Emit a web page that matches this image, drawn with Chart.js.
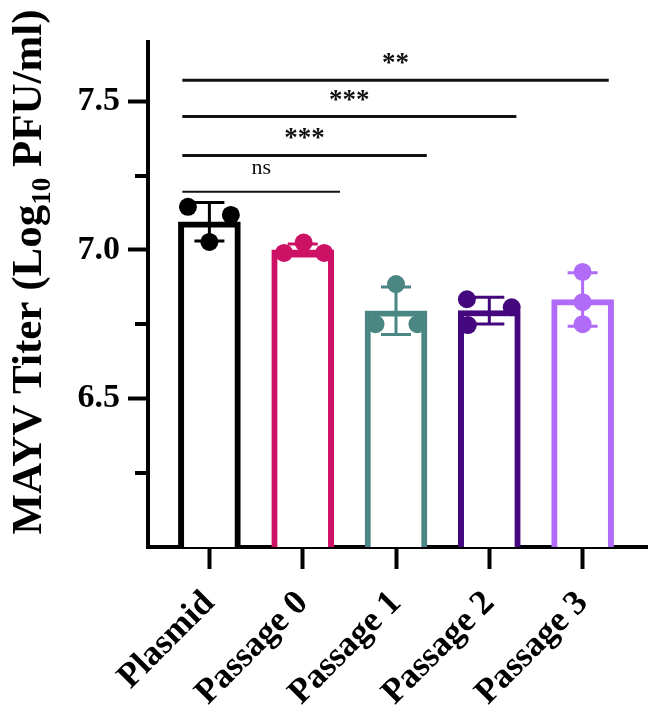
<!DOCTYPE html>
<html>
<head>
<meta charset="utf-8">
<script src="https://cdn.jsdelivr.net/npm/chart.js@4"></script>
<style>
  html, body { margin: 0; padding: 0; background: #fff; }
  #wrap { width: 656px; height: 716px; position: relative; }
</style>
</head>
<body>
<div id="wrap"><canvas id="chart"></canvas></div>
<script>
const categories = ['Plasmid', 'Passage 0', 'Passage 1', 'Passage 2', 'Passage 3'];
const colors = ['#000000', '#cd1266', '#4a8682', '#45077e', '#b06cf8'];
const means = [7.095, 7.0, 6.795, 6.796, 6.833];
const errors = [0.065, 0.02, 0.08, 0.045, 0.09];
const replicates = [
  [7.145, 7.027, 7.118],
  [6.99, 7.025, 6.99],
  [6.75, 6.885, 6.75],
  [6.834, 6.807, 6.747],
  [6.926, 6.824, 6.75]
];
// horizontal spread of the dots inside each bar (category units)
const jitter = [
  [-0.23, 0, 0.23],
  [-0.2, 0.01, 0.23],
  [-0.22, 0, 0.23],
  [-0.24, 0.24, -0.23],
  [0, 0, 0]
];
const yTicks = [6.5, 7.0, 7.5];
const yMinorTicks = [6.25, 6.75, 7.25];

// significance brackets: all start at the Plasmid bar
const compStart = -0.29;
const compEnd = [4.28, 3.29, 2.33, 1.4];
const compY = [7.571, 7.449, 7.318, 7.196];
const compLabels = ['**', '***', '***', 'ns'];

const serif = '"Liberation Serif"';

const points = [];
const pointColors = [];
replicates.forEach((vals, i) => {
  vals.forEach((v, k) => {
    points.push({ x: i + jitter[i][k], y: v });
    pointColors.push(colors[i]);
  });
});

const extras = {
  id: 'extras',
  afterDatasetDraw(chart, args) {
    if (args.index !== 0) return;
    const ctx = chart.ctx;
    const xs = chart.scales.x, ys = chart.scales.y;
    ctx.save();
    ctx.lineWidth = 3;
    means.forEach((m, i) => {
      const x = xs.getPixelForValue(i);
      const top = ys.getPixelForValue(m + errors[i]);
      const bot = ys.getPixelForValue(m - errors[i]);
      ctx.strokeStyle = colors[i];
      ctx.beginPath();
      ctx.moveTo(x, top); ctx.lineTo(x, bot);
      ctx.moveTo(x - 15, top); ctx.lineTo(x + 15, top);
      ctx.moveTo(x - 15, bot); ctx.lineTo(x + 15, bot);
      ctx.stroke();
    });
    ctx.restore();
  },
  afterDraw(chart) {
    const ctx = chart.ctx;
    const xs = chart.scales.x, ys = chart.scales.y;
    const left = chart.chartArea.left;
    ctx.save();

    // minor ticks on y axis
    ctx.strokeStyle = '#000';
    ctx.lineWidth = 4;
    yMinorTicks.forEach(v => {
      const y = Math.round(ys.getPixelForValue(v));
      ctx.beginPath();
      ctx.moveTo(left - 13, y); ctx.lineTo(left, y);
      ctx.stroke();
    });

    // significance lines
    compEnd.forEach((end, i) => {
      const y = ys.getPixelForValue(compY[i]);
      const x1 = xs.getPixelForValue(compStart);
      const x2 = xs.getPixelForValue(end);
      const isNs = compLabels[i] === 'ns';
      ctx.strokeStyle = '#111';
      ctx.lineWidth = isNs ? 2 : 3;
      ctx.beginPath();
      ctx.moveTo(x1, y); ctx.lineTo(x2, y);
      ctx.stroke();
      ctx.fillStyle = '#111';
      ctx.textAlign = 'center';
      ctx.textBaseline = 'alphabetic';
      if (isNs) {
        ctx.font = '22px ' + serif;
        ctx.fillText(compLabels[i], (x1 + x2) / 2, y - 18);
      } else {
        ctx.font = 'bold 27px ' + serif;
        ctx.fillText(compLabels[i], (x1 + x2) / 2, y - 9);
      }
    });

    // y axis title with subscript
    const big = 'bold 43px ' + serif;
    const small = 'bold 27px ' + serif;
    const parts = [['MAYV Titer (Log', big, 0], ['10', small, 9], [' PFU/ml)', big, 0]];
    let total = 0;
    parts.forEach(p => { ctx.font = p[1]; total += ctx.measureText(p[0]).width; });
    ctx.translate(26, 272);
    ctx.rotate(-Math.PI / 2);
    ctx.fillStyle = '#000';
    ctx.textAlign = 'left';
    ctx.textBaseline = 'alphabetic';
    let x = -total / 2;
    parts.forEach(p => {
      ctx.font = p[1];
      ctx.fillText(p[0], x, 15 + p[2]);
      x += ctx.measureText(p[0]).width;
    });
    ctx.restore();
  }
};

function drawChart() {
  new Chart(document.getElementById('chart'), {
    type: 'bar',
    data: {
      datasets: [
        {
          type: 'bar',
          data: means.map((m, i) => ({ x: i, y: m })),
          backgroundColor: '#ffffff',
          borderColor: colors,
          borderWidth: 6,
          barThickness: 62,
          order: 2
        },
        {
          type: 'scatter',
          data: points,
          pointRadius: 9,
          pointBackgroundColor: pointColors,
          pointBorderWidth: 0,
          order: 1
        }
      ]
    },
    options: {
      responsive: true,
      maintainAspectRatio: false,
      animation: false,
      layout: { padding: { top: 42, right: 0, left: 0, bottom: 0 } },
      plugins: { legend: { display: false }, tooltip: { enabled: false } },
      scales: {
        x: {
          type: 'linear',
          min: -0.658,
          max: 4.69,
          offset: false,
          afterBuildTicks: s => { s.ticks = categories.map((c, i) => ({ value: i })); },
          ticks: {
            callback: v => categories[v],
            autoSkip: false,
            minRotation: 45,
            maxRotation: 45,
            padding: 14,
            color: '#000',
            font: { family: serif, weight: 'bold', size: 35 }
          },
          grid: { offset: false, drawOnChartArea: false, tickLength: 22, tickWidth: 4, tickColor: '#000' },
          border: { display: true, width: 4, color: '#000' },
          afterFit: s => { s.height = 169; s.paddingLeft = 0; s.paddingRight = 0; }
        },
        y: {
          min: 6,
          max: 7.7,
          afterBuildTicks: s => { s.ticks = yTicks.map(v => ({ value: v })); },
          ticks: {
            callback: v => v.toFixed(1),
            padding: 8,
            color: '#000',
            font: { family: serif, weight: 'bold', size: 34 }
          },
          grid: { drawOnChartArea: false, tickLength: 20, tickWidth: 4, tickColor: '#000' },
          border: { display: true, width: 4, color: '#000' },
          afterFit: s => { s.width = 148; s.paddingTop = 0; s.paddingBottom = 0; }
        }
      }
    },
    plugins: [extras]
  });
}

Promise.all([
  document.fonts.load('bold 30px "Liberation Serif"'),
  document.fonts.load('22px "Liberation Serif"')
]).then(drawChart, drawChart);
</script>
</body>
</html>
